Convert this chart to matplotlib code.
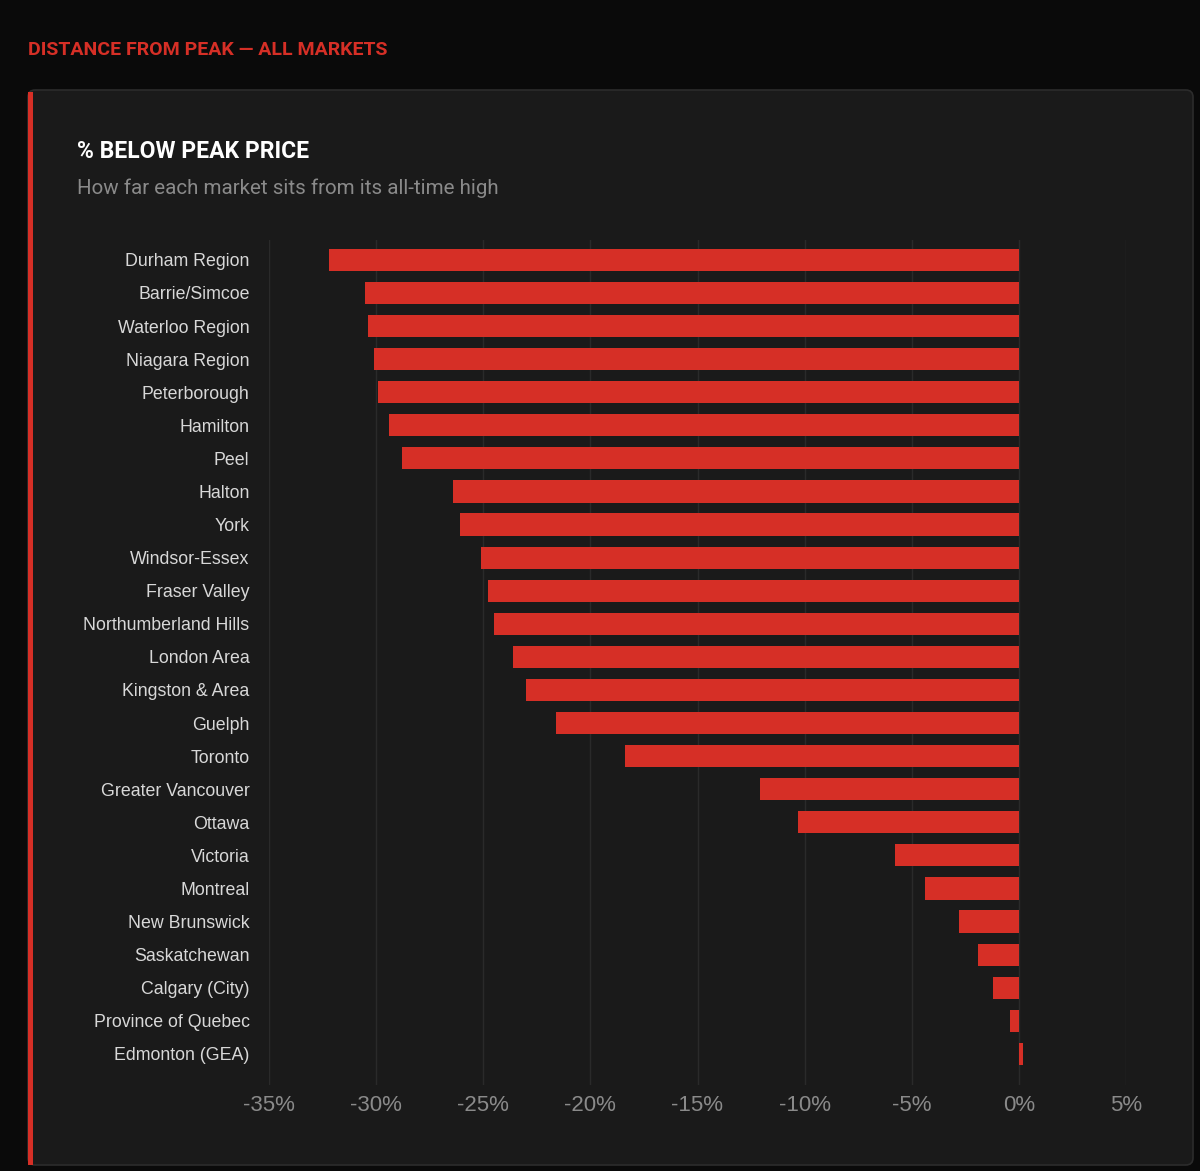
import matplotlib
matplotlib.use("Agg")
import matplotlib.pyplot as plt
from matplotlib.patches import FancyBboxPatch, Rectangle
from matplotlib.ticker import FuncFormatter, MultipleLocator

markets = ["Durham Region", "Barrie/Simcoe", "Waterloo Region", "Niagara Region",
           "Peterborough", "Hamilton", "Peel", "Halton", "York", "Windsor-Essex",
           "Fraser Valley", "Northumberland Hills", "London Area", "Kingston & Area",
           "Guelph", "Toronto", "Greater Vancouver", "Ottawa", "Victoria", "Montreal",
           "New Brunswick", "Saskatchewan", "Calgary (City)", "Province of Quebec",
           "Edmonton (GEA)"]
pct_below_peak = [-32.2, -30.5, -30.4, -30.1, -29.9, -29.4, -28.8, -26.4, -26.1, -25.1,
                  -24.8, -24.5, -23.6, -23.0, -21.6, -18.4, -12.1, -10.3, -5.8, -4.4,
                  -2.8, -1.9, -1.2, -0.4, 0.2]

W, H = 1200, 1171
fig = plt.figure(figsize=(W / 100, H / 100), dpi=100)
fig.patch.set_facecolor("#0a0a0a")

RED = "#d62f26"

def fx(px):
    return px / W

def fy(py):
    return 1 - py / H

# card
card = FancyBboxPatch((fx(28), fy(1165)), fx(1193) - fx(28), fy(90) - fy(1165),
                      boxstyle="round,pad=0,rounding_size=0.006",
                      transform=fig.transFigure, facecolor="#1a1a1a",
                      edgecolor="#2c2c2c", linewidth=1.2, zorder=-3)
fig.patches.append(card)
strip = Rectangle((fx(28), fy(1165)), fx(33) - fx(28), fy(92) - fy(1165),
                  transform=fig.transFigure, facecolor=RED, edgecolor="none", zorder=-2)
fig.patches.append(strip)

bold = ["Roboto", "DejaVu Sans"]
fig.text(fx(28), fy(50), "DISTANCE FROM PEAK — ALL MARKETS", color=RED,
         fontsize=14, fontweight="bold", family=bold, va="center", ha="left")
fig.text(fx(77), fy(152), "% BELOW PEAK PRICE", color="#ffffff",
         fontsize=16.5, fontweight="bold", family=bold, va="center", ha="left")
fig.text(fx(77), fy(188), "How far each market sits from its all-time high", color="#8a8a8a",
         fontsize=14.8, family=["Roboto", "DejaVu Sans"], va="center", ha="left")

ax = fig.add_axes([fx(269), fy(1085), fx(1126) - fx(269), fy(240) - fy(1085)])
ax.set_facecolor("none")
y = list(range(len(markets)))
ax.barh(y, pct_below_peak, height=0.67, color=RED, zorder=3)
ax.set_xlim(-35, 5)
ax.set_ylim(len(markets) - 0.06, -0.6)
ax.set_yticks(y)
ax.set_yticklabels(markets, fontsize=12.8, color="#d8d8d8", family=["Liberation Sans", "DejaVu Sans"])
ax.xaxis.set_major_locator(MultipleLocator(5))
ax.xaxis.set_major_formatter(FuncFormatter(lambda v, p: f"{v:.0f}%"))
for lab in ax.get_xticklabels():
    lab.set_family(["Liberation Sans", "DejaVu Sans"])
ax.tick_params(axis="x", colors="#8a8a8a", labelsize=16, length=0, pad=7)
ax.tick_params(axis="y", length=0, pad=14)
ax.grid(axis="x", color="#2a2a2a", linewidth=1, zorder=0)
ax.set_axisbelow(True)
for s in ax.spines.values():
    s.set_visible(False)

fig.savefig("out.png", dpi=100, facecolor=fig.get_facecolor())
